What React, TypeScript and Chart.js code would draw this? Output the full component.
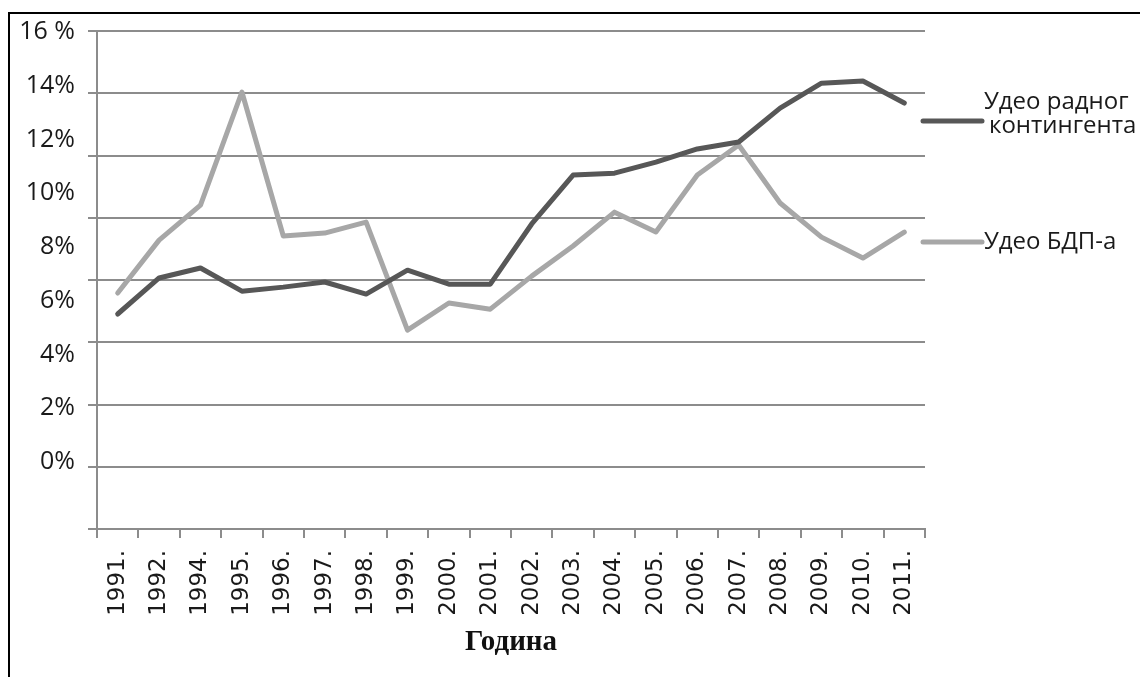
import React, { useEffect, useRef } from "react";
import { Chart, registerables } from "chart.js";

Chart.register(...registerables);

// ---- data ----
const years = [
  "1991.", "1992.", "1994.", "1995.", "1996.", "1997.", "1998.", "1999.", "2000.", "2001.",
  "2002.", "2003.", "2004.", "2005.", "2006.", "2007.", "2008.", "2009.", "2010.", "2011.",
];
const workforceShare = [
  5.51, 6.85, 7.22, 6.36, 6.51, 6.7, 6.25, 7.14, 6.62, 6.62,
  8.86, 10.68, 10.75, 11.16, 11.65, 11.91, 13.17, 14.1, 14.18, 13.36,
];
const gdpShare = [
  6.29, 8.26, 9.56, 13.77, 8.41, 8.52, 8.93, 4.91, 5.92, 5.69,
  6.92, 8.04, 9.3, 8.56, 10.68, 11.8, 9.64, 8.37, 7.59, 8.56,
];
const seriesLabels = ["Удео радног контингента", "Удео БДП-а"];
const legendLines = [["Удео радног", "контингента"], ["Удео БДП-а"]];
const yTickValues = [0, 2, 4, 6, 8, 10, 12, 14, 16];
const yTickLabels = ["0%", "2%", "4%", "6%", "8%", "10%", "12%", "14%", "16 %"];
const xTitle = "Година";

const DARK = "#575757";
const LIGHT = "#a7a7a7";
const GRID = "#8c8c8c";

const sideLegend = {
  id: "sideLegend",
  afterDraw(chart: any) {
    const { ctx, chartArea } = chart;
    const sampleX1 = chartArea.right - 2;
    const sampleX2 = sampleX1 + 59;
    const textX = sampleX2 + 2;
    const items = [
      { lineY: 121, baselines: [109, 133] },
      { lineY: 242, baselines: [249] },
    ];
    ctx.save();
    chart.data.datasets.forEach((ds: any, i: number) => {
      const it = items[i];
      ctx.strokeStyle = ds.borderColor;
      ctx.lineWidth = 5;
      ctx.lineCap = "round";
      ctx.beginPath();
      ctx.moveTo(sampleX1, it.lineY);
      ctx.lineTo(sampleX2, it.lineY);
      ctx.stroke();
      ctx.fillStyle = "#1a1a1a";
      ctx.font = "24px 'Open Sans'";
      ctx.textAlign = "left";
      ctx.textBaseline = "alphabetic";
      legendLines[i].forEach((line, k) => {
        ctx.fillText(line, textX + (k > 0 ? 5 : 0), it.baselines[k]);
      });
    });
    ctx.restore();
  },
};

export default function App() {
  const canvasRef = useRef<HTMLCanvasElement | null>(null);

  useEffect(() => {
    if (!canvasRef.current) return;
    const chart = new Chart(canvasRef.current, {
      type: "line",
      data: {
        labels: years,
        datasets: [
          {
            label: seriesLabels[0],
            data: workforceShare,
            borderColor: DARK,
            backgroundColor: DARK,
            borderWidth: 5,
            pointRadius: 0,
            tension: 0,
            borderJoinStyle: "round",
            borderCapStyle: "round",
            yAxisID: "y",
            xAxisID: "x",
          },
          {
            label: seriesLabels[1],
            data: gdpShare,
            borderColor: LIGHT,
            backgroundColor: LIGHT,
            borderWidth: 5,
            pointRadius: 0,
            tension: 0,
            borderJoinStyle: "round",
            borderCapStyle: "round",
            yAxisID: "y",
            xAxisID: "x",
          },
        ],
      },
      options: {
        responsive: false,
        animation: false,
        devicePixelRatio: 1,
        layout: { padding: { left: 0, top: 31, right: 215, bottom: 0 } },
        plugins: {
          legend: { display: false },
          tooltip: { enabled: false },
        },
        scales: {
          x: {
            type: "category",
            position: "bottom",
            offset: true,
            grid: {
              offset: true,
              drawOnChartArea: false,
              drawTicks: true,
              tickLength: 9,
              color: GRID,
              lineWidth: 2,
            },
            border: { display: true, color: GRID, width: 2 },
            ticks: {
              autoSkip: false,
              minRotation: 90,
              maxRotation: 90,
              padding: 12,
              color: "#1a1a1a",
              font: { family: "'DejaVu Sans'", size: 23 },
            },
            title: {
              display: true,
              text: xTitle,
              color: "#111",
              font: { family: "'Liberation Serif'", size: 29, weight: "bold" },
              padding: { top: 0, bottom: 17 },
            },
            afterFit: (scale: any) => {
              scale.height = 148;
              scale.paddingLeft = 0;
              scale.paddingRight = 0;
            },
          },
          y: {
            type: "linear",
            position: "left",
            weight: 1,
            min: -2.49,
            max: 16.04,
            grid: { display: false },
            border: { display: false },
            afterBuildTicks: (scale: any) => {
              scale.ticks = yTickValues.map((v) => ({ value: v }));
            },
            ticks: {
              padding: 14,
              color: "#1a1a1a",
              font: { family: "'Open Sans'", size: 25 },
              callback: (value: any) => {
                const idx = yTickValues.indexOf(Number(value));
                return idx >= 0 ? yTickLabels[idx] : "";
              },
            },
            afterFit: (scale: any) => {
              scale.width = 97;
            },
          },
          yGrid: {
            type: "linear",
            position: "left",
            weight: 0,
            min: 0,
            max: 8,
            ticks: { display: false, stepSize: 1 },
            grid: {
              display: true,
              drawTicks: true,
              tickLength: 9,
              color: GRID,
              lineWidth: 2,
            },
            border: { display: true, color: GRID, width: 2 },
            afterFit: (scale: any) => {
              scale.width = 0;
            },
          },
        },
      },
      plugins: [sideLegend],
    });
    return () => chart.destroy();
  }, []);

  return (
    <div
      style={{
        position: "fixed",
        left: 0,
        top: 0,
        width: 1140,
        height: 677,
        background: "#fff",
      }}
    >
      <canvas ref={canvasRef} width={1140} height={677} style={{ display: "block" }} />
      <div
        style={{
          position: "absolute",
          left: 8,
          top: 12,
          right: 0,
          bottom: 0,
          borderTop: "2px solid #000",
          borderLeft: "2px solid #000",
          pointerEvents: "none",
        }}
      />
    </div>
  );
}
